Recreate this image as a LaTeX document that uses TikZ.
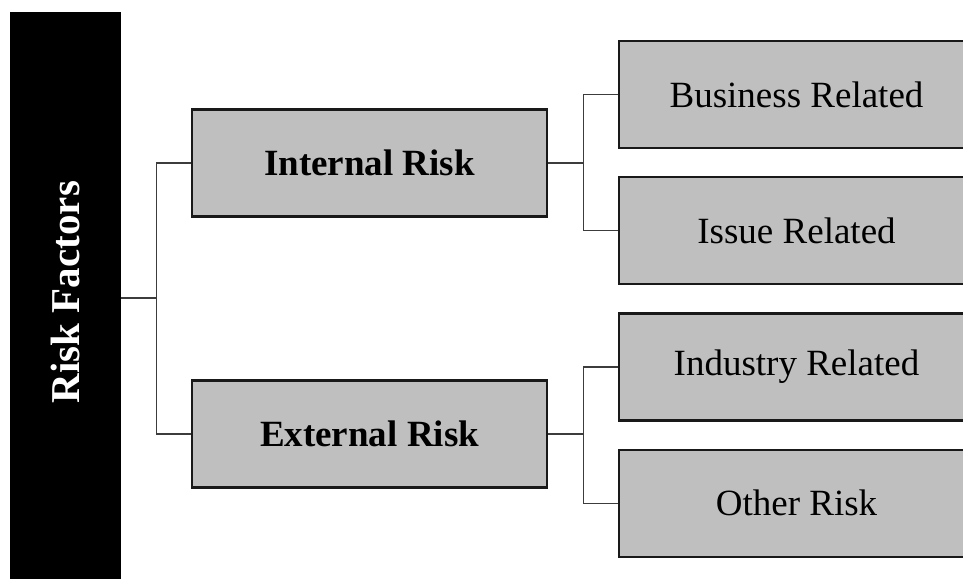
\documentclass[tikz,border=0pt]{standalone}
\usepackage{fontspec}
\setmainfont{Liberation Serif}
\usetikzlibrary{positioning}
\definecolor{boxgray}{RGB}{191,191,191}
\definecolor{linegray}{RGB}{60,60,60}

\begin{document}
\begin{tikzpicture}[x=1pt,y=-1pt,
  rootbar/.style={fill=black,text=white,minimum width=111pt,minimum height=572pt,inner sep=0pt,
    font=\fontsize{41}{44}\selectfont\bfseries},
  riskbox/.style={draw=black!90,line width=2.2pt,fill=boxgray,minimum width=355pt,minimum height=107pt,
    inner sep=0pt,font=\fontsize{37}{40}\selectfont\bfseries},
  leafbox/.style={riskbox,font=\fontsize{37}{40}\selectfont},
  link/.style={draw=linegray,line width=1.2pt}]
\clip (0,0) rectangle (963,578);
\fill[white] (0,0) rectangle (963,578);
\node[rootbar] (factors) at (65.5,298) {\rotatebox{90}{\hspace{12pt}Risk Factors}};
\node[riskbox] (internal) at (369.5,163) {Internal Risk};
\node[riskbox] (external) at (369.5,434) {External Risk};
\node[leafbox] (business) at (796.5,94.5) {Business Related};
\node[leafbox,below=27pt of business] (issue) {Issue Related};
\node[leafbox,below=27pt of issue] (industry) {Industry Related};
\node[leafbox,below=27pt of industry] (other) {Other Risk};
\draw[link] (factors.east) -- ++(35,0) |- (internal.west); % upper branch
\draw[link] (factors.east) -- ++(35,0) |- (external.west); % lower branch
\draw[link] (internal.east) -- ++(35,0) |- (business.west);
\draw[link] (internal.east) -- ++(35,0) |- (issue.west);
\draw[link] (external.east) -- ++(35,0) |- (industry.west);
\draw[link] (external.east) -- ++(35,0) |- (other.west);
\end{tikzpicture}
\end{document}
